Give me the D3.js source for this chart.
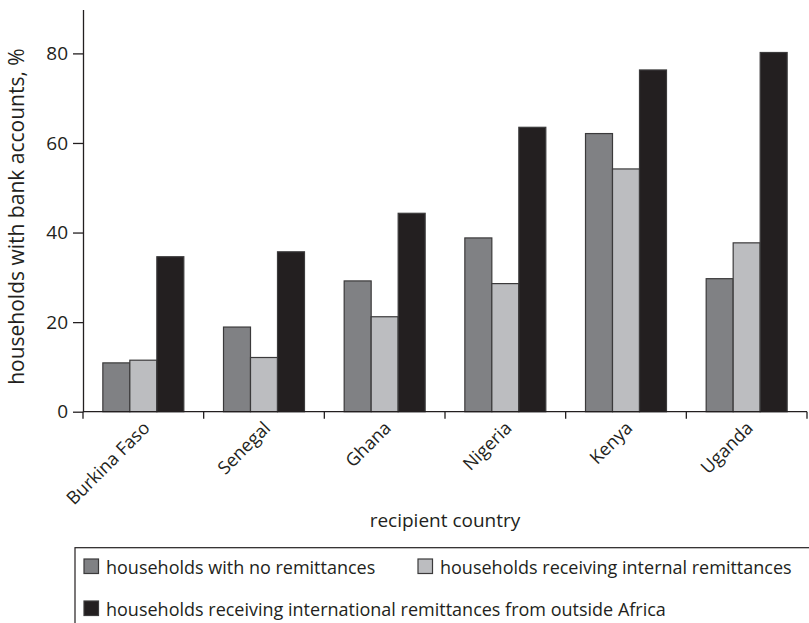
<!DOCTYPE html>
<html>
<head>
<meta charset="utf-8">
<script src="https://cdn.jsdelivr.net/npm/d3@7"></script>
<style>
  html, body { margin: 0; padding: 0; background: #fff; }
  svg { display: block; font-family: "Open Sans", "Noto Sans", sans-serif; }
</style>
</head>
<body>
<svg id="chart" width="809" height="623"></svg>
<script>
const categories = ["Burkina Faso", "Senegal", "Ghana", "Nigeria", "Kenya", "Uganda"];
const seriesNames = [
  "households with no remittances",
  "households receiving internal remittances",
  "households receiving international remittances from outside Africa"
];
const noRemittances       = [10.9, 18.9, 29.2, 38.8, 62.1, 29.7];
const internalRemittances = [11.5, 12.1, 21.2, 28.6, 54.2, 37.7];
const internationalRemit  = [34.6, 35.7, 44.3, 63.5, 76.3, 80.2];
const yTicks = [0, 20, 40, 60, 80];
const colors = ["#808184", "#bcbdc0", "#231f20"];

const seriesValues = [noRemittances, internalRemittances, internationalRemit];

const svg = d3.select("#chart");
const ink = "#231f20";
const mLeft = 83, mRight = 807, mTop = 9.5, mBottom = 411.7;

const x = d3.scaleBand().domain(categories).range([mLeft, mRight]).paddingInner(0).paddingOuter(0);
const xs = d3.scaleBand().domain(d3.range(seriesNames.length)).range([0, x.bandwidth()])
  .paddingInner(0).paddingOuter(0.735);
const y = d3.scaleLinear().domain([0, 89.8]).range([mBottom, mTop]);

// bars
const groups = svg.append("g").selectAll("g").data(categories).join("g")
  .attr("transform", d => `translate(${x(d)},0)`);
groups.selectAll("rect")
  .data((d, i) => seriesValues.map((vals, s) => ({ s, v: vals[i] })))
  .join("rect")
  .attr("x", d => xs(d.s))
  .attr("y", d => y(d.v))
  .attr("width", xs.bandwidth())
  .attr("height", d => y(0) - y(d.v))
  .attr("fill", d => colors[d.s])
  .attr("stroke", "#3b3a3b")
  .attr("stroke-width", 1.2);

// y axis
const yAxis = svg.append("g")
  .attr("transform", `translate(${mLeft},0)`)
  .call(d3.axisLeft(y).tickValues(yTicks).tickSize(10).tickPadding(5).tickSizeOuter(0));
yAxis.select(".domain").attr("stroke", ink).attr("stroke-width", 1.3);
yAxis.selectAll(".tick line").attr("stroke", ink).attr("stroke-width", 1.3);
yAxis.selectAll(".tick text").attr("fill", ink).style("font-size", "19px")
  .style("font-family", "'Open Sans', sans-serif");

// x axis baseline with boundary ticks
const xAxis = svg.append("g").attr("transform", `translate(0,${mBottom})`);
xAxis.append("line").attr("x1", mLeft).attr("x2", mRight).attr("y1", 0).attr("y2", 0)
  .attr("stroke", ink).attr("stroke-width", 1.3);
const boundaries = categories.map(c => x(c)).concat([x(categories[categories.length - 1]) + x.bandwidth()]);
xAxis.selectAll("line.bt").data(boundaries).join("line").attr("class", "bt")
  .attr("x1", d => d).attr("x2", d => d).attr("y1", 0).attr("y2", 7)
  .attr("stroke", ink).attr("stroke-width", 1.3);
xAxis.selectAll("text").data(categories).join("text")
  .attr("transform", d => `translate(${x(d) + x.bandwidth() / 2 + 3},${13}) rotate(-45)`)
  .attr("text-anchor", "end")
  .attr("dy", "0.35em")
  .attr("fill", ink)
  .style("font-size", "18px")
  .text(d => d);

// axis titles
svg.append("text")
  .attr("x", (mLeft + mRight) / 2).attr("y", 527)
  .attr("text-anchor", "middle").attr("fill", ink).style("font-size", "19px")
  .text("recipient country");
svg.append("text")
  .attr("transform", `translate(24,${(mTop + mBottom) / 2 + 6}) rotate(-90)`)
  .attr("text-anchor", "middle").attr("fill", ink).style("font-size", "21px")
  .text("households with bank accounts, %");

// legend
const lg = svg.append("g");
lg.append("rect").attr("x", 75).attr("y", 547.7).attr("width", 760).attr("height", 90)
  .attr("fill", "none").attr("stroke", ink).attr("stroke-width", 1.2);
const legendPos = [
  { x: 84, y: 559 },
  { x: 418, y: 559 },
  { x: 84, y: 601 }
];
const li = lg.selectAll("g.li").data(seriesNames).join("g").attr("class", "li")
  .attr("transform", (d, i) => `translate(${legendPos[i].x},${legendPos[i].y})`);
li.append("rect").attr("width", 14.5).attr("height", 14.5)
  .attr("fill", (d, i) => colors[i]).attr("stroke", "#3b3a3b").attr("stroke-width", 1.2);
li.append("text").attr("x", 22).attr("y", 15)
  .attr("fill", ink).style("font-size", "18px").text(d => d);
</script>
</body>
</html>
